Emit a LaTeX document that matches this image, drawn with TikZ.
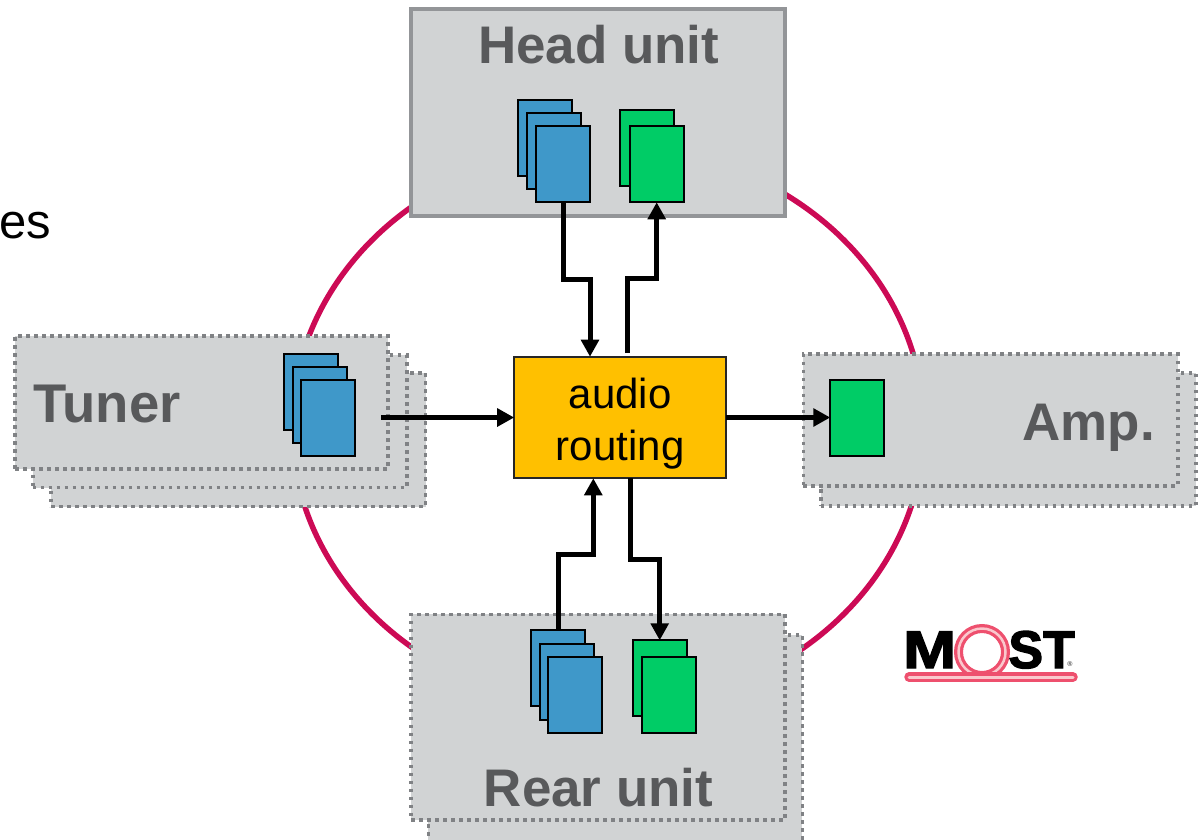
\documentclass[tikz,border=0pt]{standalone}
\usepackage{fontspec}
\usepackage{graphicx}
\setmainfont{Liberation Sans}
\newfontfamily\logofont[FakeBold=2.5]{Liberation Sans Bold}
\usetikzlibrary{arrows.meta}
\definecolor{ringc}{RGB}{204,10,85}
\definecolor{boxfill}{RGB}{209,211,212}
\definecolor{solidgrey}{RGB}{147,149,152}
\definecolor{dotgrey}{RGB}{128,130,133}
\definecolor{labelgrey}{RGB}{88,89,91}
\definecolor{docblue}{RGB}{63,152,201}
\definecolor{docgreen}{RGB}{0,204,102}
\definecolor{routefill}{RGB}{255,192,0}
\definecolor{logopink}{RGB}{238,80,110}
\definecolor{logolight}{RGB}{250,200,205}
\tikzset{
  unitbox/.style={fill=boxfill,draw=dotgrey,line width=3.6pt,dash pattern=on 3.6pt off 4.4pt,rectangle,inner sep=0pt,outer sep=0pt,anchor=north west},
  headbox/.style={fill=boxfill,draw=solidgrey,line width=3.2pt,rectangle,inner sep=0pt,outer sep=0pt,anchor=north west},
  doc/.style={rectangle,draw=black,line width=2pt,minimum width=54pt,minimum height=76pt,inner sep=0pt,outer sep=0pt},
  blue doc/.style={doc,fill=docblue},
  green doc/.style={doc,fill=docgreen},
  routebox/.style={rectangle,fill=routefill,draw=black!85,line width=2pt,inner sep=0pt,outer sep=0pt,minimum width=212pt,minimum height=121.6pt},
  unitlabel/.style={font=\fontsize{52.9}{60}\selectfont\bfseries,text=labelgrey,inner sep=0pt},
  routelabel/.style={font=\fontsize{42}{48}\selectfont,text=black,inner sep=0pt,anchor=base},
  link/.style={line width=5pt,draw=black,-{Triangle[length=17pt,width=17.5pt]}},
  ring/.style={draw=ringc,line width=5.5pt}
}
\begin{document}
\begin{tikzpicture}[x=1pt,y=-1pt]
\useasboundingbox (0,0) rectangle (1200,839);
\clip (0,0) rectangle (1200,839);
% ring
\draw[ring] (608,427) ellipse [x radius=316pt,y radius=281pt];
% cut-off text
\node[font=\fontsize{49}{56}\selectfont,inner sep=0pt,anchor=base east] (cutoff) at (51,238) {es};
% head unit
\node[headbox,minimum width=374pt,minimum height=207pt] (head) at (411,9) {};
\node[unitlabel,anchor=base] (headl) at (598.5,63.3) {Head unit};
\node[blue doc] (hb1) at (545.3,137.5) {};
\node[blue doc] (hb2) at (554,151) {};
\node[blue doc] (hb3) at (563.3,164.3) {};
\node[green doc] (hg1) at (647.2,147.7) {};
\node[green doc] (hg2) at (656.7,164.3) {};
% tuner
\node[unitbox,minimum width=374.5pt,minimum height=133.5pt] (tun3) at (51,373) {};
\node[unitbox,minimum width=374pt,minimum height=132.5pt] (tun2) at (32.7,355) {};
\node[unitbox,minimum width=373pt,minimum height=133pt] (tun1) at (15,336) {};
\node[unitlabel,anchor=base west,font=\fontsize{54.5}{60}\selectfont\bfseries] (tunl) at (33,422.7) {Tuner};
\node[blue doc] (tb1) at (310.7,391.8) {};
\node[blue doc] (tb2) at (319.7,405.1) {};
\node[blue doc] (tb3) at (328.3,418.2) {};
% amp
\node[unitbox,minimum width=375.5pt,minimum height=132.7pt] (amp2) at (820.7,373) {};
\node[unitbox,minimum width=374.4pt,minimum height=131.7pt] (amp1) at (803.3,354) {};
\node[unitlabel,anchor=base east] (ampl) at (1155,440.7) {Amp.};
\node[green doc] (ag) at (857.3,417.5) {};
% rear
\node[unitbox,minimum width=374pt,minimum height=215pt] (rear2) at (428.3,635) {};
\node[unitbox,minimum width=374pt,minimum height=205.7pt] (rear1) at (411,614.3) {};
\node[unitlabel,anchor=base] (rearl) at (598.5,806) {Rear unit};
\node[blue doc] (rb1) at (558,668.3) {};
\node[blue doc] (rb2) at (566.5,681.6) {};
\node[blue doc] (rb3) at (575.3,695) {};
\node[green doc] (rg1) at (659.7,678.3) {};
\node[green doc] (rg2) at (669.2,695) {};
% routing
\node[routebox] (route) at (620.2,417.5) {};
\node[routelabel] (route1) at (620.2,408) {audio};
\node[routelabel] (route2) at (620.2,460) {routing};
% connectors
\coordinate (tunout) at (381,417.5);
\coordinate (headin) at (627.3,353);
\draw[link] (hb3.south) -- (563.3,279.3) -- (590,279.3) -- (590,0 |- route.north);
\draw[link] (headin) -- (627.3,278.3) -- (656.7,278.3) -- (hg2.south);
\draw[link] (tunout) -- (route.west);
\draw[link] (route.east) -- (ag.west);
\draw[link] (rb1.north) -- (558,554.3) -- (593.3,554.3) -- (593.3,0 |- route.south);
\draw[link] (630,0 |- route.south) -- (630,559) -- (659.7,559) -- (rg1.north);
% logo
\draw[logopink,line width=9pt] (982,652) circle [radius=23.5pt];
\draw[logolight,line width=2.5pt] (982,652) circle [radius=23.5pt];
\node[inner sep=0pt,anchor=base west,font=\fontsize{53}{60}\logofont] (logom) at (903,668) {\scalebox{1.2}[1]{M}};
\node[inner sep=0pt,anchor=base east,font=\fontsize{53}{60}\logofont] (logost) at (1075,668) {\scalebox{0.98}[1]{ST}};
\node[inner sep=0pt,font=\fontsize{7}{8}\selectfont\bfseries,text=black!70] (logor) at (1070,664) {®};
\draw[logopink,line width=9.5pt,line cap=round] (909,677) -- (1073,677);
\draw[logolight,line width=3pt,line cap=round] (909,677) -- (1073,677);
\end{tikzpicture}
\end{document}
